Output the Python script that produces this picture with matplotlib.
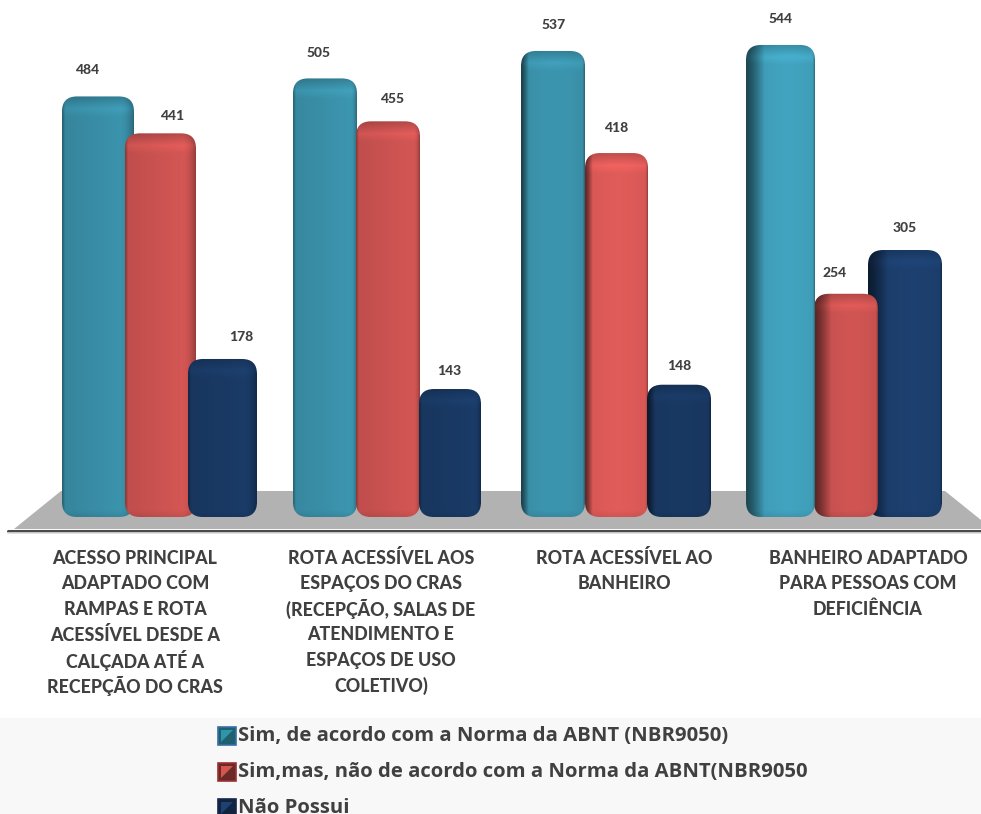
import numpy as np
import matplotlib
matplotlib.use("Agg")
import matplotlib.pyplot as plt
from matplotlib.patches import FancyBboxPatch, Polygon, Rectangle

categories = [
    "ACESSO PRINCIPAL\nADAPTADO COM\nRAMPAS E ROTA\nACESSÍVEL DESDE A\nCALÇADA ATÉ A\nRECEPÇÃO DO CRAS",
    "ROTA ACESSÍVEL AOS\nESPAÇOS DO CRAS\n(RECEPÇÃO, SALAS DE\nATENDIMENTO E\nESPAÇOS DE USO\nCOLETIVO)",
    "ROTA ACESSÍVEL AO\nBANHEIRO",
    "BANHEIRO ADAPTADO\nPARA PESSOAS COM\nDEFICIÊNCIA",
]
sim_norma = [484, 505, 537, 544]
sim_fora = [441, 455, 418, 254]
nao_possui = [178, 143, 148, 305]
series_names = [
    "Sim, de acordo com a Norma da ABNT (NBR9050)",
    "Sim,mas, não de acordo com a Norma da ABNT(NBR9050",
    "Não Possui",
]
series = [sim_norma, sim_fora, nao_possui]

W, H = 981, 814
BASE_PX = 511.7
PX_PER_UNIT = 0.858
BAR_FLOOR = -6.2

# layout (pixels), by group then series
bar_left = [[62, 125, 188], [293, 356, 419], [521, 585, 647], [746, 814, 868]]
bar_right = [[134, 196, 257], [357, 420, 481], [585, 648, 711], [815, 878, 942]]
z_order = [[1, 2, 3], [2, 3, 4], [2, 3, 4], [4, 3, 2]]
edge_left = [0.04, 0.04, 0.12, 0.27]
edge_right = [0.20, 0.10, 0.05, 0.04]
brightness = [[0.96, 0.98, 1.0], [0.98, 0.98, 1.0], [1.03, 1.10, 1.0], [1.13, 1.02, 1.14]]
label_dx = [[-11, 12, 19], [-6, 4, -1], [1, 0, 0], [0, -11, 0]]
label_gap = [[26, 17, 22], [25, 22, 18], [26, 25, 19], [26, 21, 22]]
base_colors = [np.array([56, 139, 163]) / 255,
               np.array([196, 80, 78]) / 255,
               np.array([24, 54, 94]) / 255]
label_x = [135, 381, 624, 868]
label_y0, label_step = 558, 25.6

fig = plt.figure(figsize=(W / 100, H / 100), dpi=100)
fig.patch.set_facecolor("white")

deco = fig.add_axes([0, 0, 1, 1], zorder=0)
deco.set_xlim(0, W)
deco.set_ylim(H, 0)
deco.axis("off")
deco.add_patch(Rectangle((0, 718), W, H - 718, fc="#f8f8f8", ec="none"))
deco.add_patch(Polygon([(14, 529), (61, 491), (945, 491), (981, 520), (981, 529)],
                       fc="#b2b2b2", ec="none"))
deco.plot([8, 981], [530.5, 530.5], color="#4a4a4a", lw=2.2, solid_capstyle="round")
deco.plot([8, 981], [533, 533], color="#dcdcdc", lw=1.2)

ax = fig.add_axes([0, 0, 1, 1], zorder=1)
ax.patch.set_alpha(0)
ax.axis("off")
y_low = -(H - BASE_PX) / PX_PER_UNIT
y_high = BASE_PX / PX_PER_UNIT


def shade_array(color, h_units, wl, wr, factor):
    nx, ny = 120, 300
    t = np.linspace(0, 1, nx)
    left_floor = 0.45 if wl > 0.1 else 0.72
    xs = np.ones(nx)
    mid = (t >= wl) & (t <= 1 - wr)
    u = (t - wl) / (1 - wl - wr)
    if wr > 0.08:
        xs = np.where(mid, 1 + 0.10 * u, xs)
        edge_top = 1.10
    else:
        xs = np.where(mid, 1.0 + 0.04 * np.sin(np.pi * u), xs)
        edge_top = 1.0
    xs = np.where(t < wl, left_floor + (1 - left_floor) * (t / wl) ** 1.3, xs)
    xs = np.where(t > 1 - wr, edge_top - 0.32 * ((t - (1 - wr)) / wr) ** 2.2, xs)
    px = np.linspace(0, h_units * PX_PER_UNIT, ny)
    ys = np.ones(ny)
    ys = np.where(px < 12, 0.86 + 0.22 * px / 12, ys)
    ys = np.where((px >= 12) & (px < 20), 1.08 - 0.08 * (px - 12) / 8, ys)
    b = px.max() - px
    ys = np.where(b < 6, 0.93 + 0.07 * b / 6, ys)
    arr = np.outer(ys, xs)[..., None] * color * factor
    return np.clip(arr, 0, 1)


for g in range(len(categories)):
    for s, vals in enumerate(series):
        v = vals[g]
        x0, x1 = bar_left[g][s], bar_right[g][s]
        patch = FancyBboxPatch((x0, BAR_FLOOR), x1 - x0, v - BAR_FLOOR,
                               boxstyle="round,pad=0,rounding_size=15",
                               mutation_aspect=1 / PX_PER_UNIT,
                               fc="none", ec="none", zorder=z_order[g][s])
        ax.add_patch(patch)
        im = ax.imshow(shade_array(base_colors[s], v - BAR_FLOOR, edge_left[g], edge_right[g],
                                   brightness[g][s]),
                       extent=(x0, x1, BAR_FLOOR, v), origin="upper", aspect="auto",
                       interpolation="bilinear", zorder=z_order[g][s])
        im.set_clip_path(patch)
        ax.annotate(str(v), ((x0 + x1) / 2, v),
                    xytext=(label_dx[g][s], label_gap[g][s]), textcoords="offset pixels",
                    ha="center", va="center", family="Lato", fontweight=900,
                    fontsize=10, color="#404040", zorder=10)
ax.set_xlim(0, W)
ax.set_ylim(y_low, y_high)

# category labels
for x, text in zip(label_x, categories):
    for i, line in enumerate(text.split("\n")):
        deco.text(x, label_y0 + i * label_step, line, ha="center", va="center",
                  family="Lato", fontweight=900, fontsize=12.8, color="#404040")

# legend
legend_y = [736, 772, 808]
marker_edge = ["#3a6ea5", "#9c3230", "#16294a"]
marker_light = ["#2f95a8", "#d4564e", "#1d4272"]
marker_dark = ["#1f5f70", "#6a2a28", "#10233f"]
for y, name, ec, lc, dc in zip(legend_y, series_names, marker_edge, marker_light, marker_dark):
    x0, s = 218, 18
    deco.add_patch(Rectangle((x0, y - 9), s, s, fc=dc, ec=ec, lw=1.2))
    deco.add_patch(Polygon([(x0 + 3, y + 6), (x0 + s - 3, y - 6), (x0 + s - 3, y + 6)], fc=dc, ec="none"))
    deco.add_patch(Polygon([(x0 + 3, y + 6), (x0 + s - 3, y - 6), (x0 + 3, y - 6)], fc=lc, ec="none"))
    deco.text(238, y, name, ha="left", va="center", family="Open Sans", fontweight="bold",
              fontsize=14.6, color="#404040", clip_on=False)

fig.savefig("out.png", dpi=100)
